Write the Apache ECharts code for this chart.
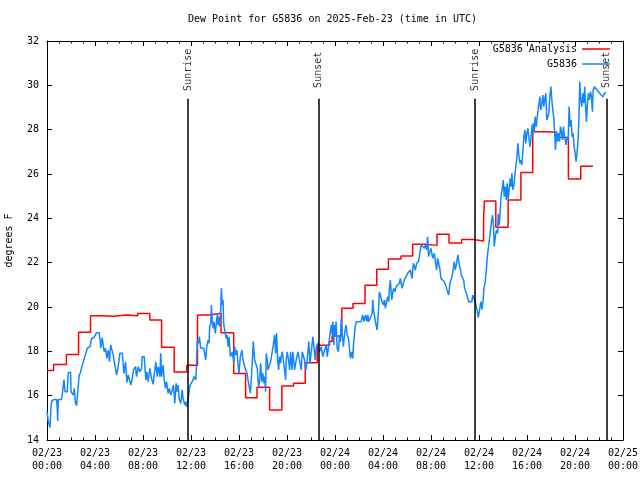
<!DOCTYPE html>
<html>
<head>
<meta charset="utf-8">
<script src="https://cdn.jsdelivr.net/npm/echarts@6/dist/echarts.min.js"></script>
<style>html,body{margin:0;padding:0;background:#fff;}#c{width:640px;height:480px;}</style>
</head>
<body>
<div id="c"></div>
<script>
// Hours since 2025-02-23 00:00 UTC
const redTime = [0,0.55,1.62,2.63,3.63,4.63,5.55,6.57,7.55,8.57,9.55,10.6,11.65,12.54,13.56,14.5,15.56,16.55,17.5,18.55,19.57,20.55,21.52,22.52,23.54,23.76,24.57,25.5,26.5,27.48,28.45,29.5,30.47,31.5,32.5,33.5,34.55,35.55,36.38,36.45,37.4,38.43,39.49,40.48,41.51,42.45,43.45,44.48,45.5];
const redDew  = [17.14,17.41,17.86,18.86,19.61,19.58,19.64,19.61,19.71,19.41,18.18,17.07,17.37,19.64,19.72,18.84,17.0,15.91,16.38,15.35,16.44,16.56,17.49,18.28,18.44,18.69,19.94,20.16,20.98,21.70,22.16,22.30,22.83,22.78,23.28,22.89,23.05,22.98,23.9,24.78,23.6,24.83,26.07,27.91,27.88,27.65,25.77,26.35,26.35];

const blueTime = [0,0.11,0.25,0.33,0.39,0.61,0.8,0.86,0.89,0.94,1.22,1.3,1.41,1.5,1.69,1.77,1.97,2.0,2.19,2.27,2.38,2.47,2.61,2.69,2.8,2.88,3.02,3.16,3.24,3.36,3.44,3.58,3.72,3.91,4.05,4.13,4.35,4.44,4.49,4.6,4.69,4.77,4.88,4.99,5.1,5.21,5.3,5.44,5.52,5.6,5.71,5.8,5.93,6.07,6.27,6.41,6.54,6.66,6.77,6.91,6.99,7.13,7.21,7.38,7.46,7.6,7.74,7.88,7.93,8.1,8.15,8.24,8.32,8.43,8.57,8.71,8.85,8.93,9.07,9.18,9.26,9.4,9.48,9.54,9.68,9.76,9.87,9.96,10.09,10.18,10.32,10.43,10.54,10.65,10.76,10.84,10.93,11.01,11.15,11.26,11.34,
11.48,11.56,11.62,11.7,11.76,11.81,11.9,12.03,12.17,12.26,12.31,12.4,12.45,12.53,12.64,12.7,12.81,12.92,13.06,13.14,13.23,13.31,13.42,13.5,13.56,13.64,13.7,13.78,13.86,13.92,14.03,14.11,14.2,14.25,14.34,14.39,14.48,14.53,14.61,14.67,14.72,14.81,14.92,15.0,15.09,15.17,15.28,15.36,15.45,15.56,15.64,15.72,15.83,15.92,16.0,16.11,16.25,16.33,16.47,16.55,16.67,16.75,16.83,16.94,17.03,17.11,17.19,17.3,17.44,17.53,17.58,17.64,17.72,17.8,17.91,17.99,18.08,18.14,18.22,18.27,18.36,18.41,18.55,18.63,18.77,18.86,18.97,19.05,19.13,19.22,19.3,19.38,19.47,19.52,19.61,19.69,19.8,19.88,19.94,20.02,20.13,20.22,20.3,20.41,20.49,20.63,20.77,20.91,21.05,21.19,21.27,21.35,21.46,21.57,21.66,21.74,21.82,21.91,22.02,22.16,22.24,22.35,22.43,22.57,22.71,22.85,22.99,23.13,23.27,23.35,23.46,
23.54,23.68,23.76,23.82,23.9,23.96,24.04,24.09,24.18,24.29,24.37,24.46,24.51,24.59,24.7,24.82,24.93,25.01,25.12,25.2,25.29,25.4,25.48,25.54,25.62,25.7,25.81,26.17,26.31,26.4,26.54,26.65,26.73,26.81,26.95,27.09,27.15,27.23,27.34,27.42,27.51,27.62,27.7,27.78,27.92,28.03,28.12,28.2,28.31,28.39,28.48,28.53,28.61,28.73,28.81,28.89,29.0,29.09,29.23,29.36,29.45,29.59,29.7,29.78,29.92,30.06,30.2,30.28,30.42,30.53,30.61,30.69,30.8,30.97,31.08,31.19,31.3,31.44,31.53,31.64,31.72,31.8,31.91,32.0,32.14,32.28,32.36,32.47,32.55,32.64,32.75,32.83,32.97,33.11,33.25,33.38,33.47,33.58,33.66,33.75,33.86,33.94,34.02,34.13,34.24,34.36,34.44,34.52,34.63,34.72,34.8,34.91,34.99,35.13,
35.19,35.41,35.47,35.61,35.69,35.74,35.83,35.94,36.08,36.16,36.24,36.35,36.41,36.52,36.63,36.72,36.8,36.91,37.02,37.13,37.21,37.27,37.38,37.46,37.55,37.6,37.69,37.77,37.85,37.94,38.02,38.1,38.19,38.27,38.35,38.43,38.52,38.6,38.68,38.74,38.82,38.91,38.99,39.07,39.16,39.24,39.32,39.41,39.49,39.57,39.65,39.74,39.82,39.9,39.99,40.07,40.18,40.26,40.35,40.43,
40.46,40.52,40.6,40.68,40.77,40.85,40.93,41.02,41.07,41.15,41.24,41.32,41.4,41.49,41.57,41.65,41.74,41.82,41.9,41.99,42.07,42.15,42.24,42.32,42.37,42.46,42.54,42.62,42.71,42.79,42.87,42.96,43.04,43.12,43.18,43.26,43.34,43.43,43.51,43.59,43.68,43.76,43.84,43.93,44.01,44.09,44.18,44.26,44.34,44.4,44.48,44.57,44.65,44.73,44.81,44.9,44.95,45.04,45.12,45.2,45.29,45.37,45.45,45.51,45.56,45.62,46.3,46.56];
const blueDew = [15.28,14.83,14.56,15.43,15.76,15.83,15.83,15.35,14.86,15.83,15.83,16.18,16.71,16.18,16.18,17.05,17.05,16.18,16.03,16.33,15.65,15.55,16.48,16.93,17.05,17.26,17.53,17.61,17.91,18.14,18.21,18.21,18.59,18.62,18.66,18.84,18.84,18.44,18.14,18.62,18.59,17.98,18.14,17.68,18.06,17.53,18.29,18.29,17.83,17.53,17.23,16.93,17.31,17.91,17.91,17.01,17.53,16.6,16.93,16.93,16.48,16.86,17.16,17.31,16.86,17.31,17.08,17.23,17.76,17.76,17.38,16.71,17.08,16.63,17.23,16.78,16.51,16.93,17.53,16.86,17.31,16.86,17.91,16.86,17.38,16.78,16.33,16.63,16.11,16.33,16.03,16.26,16.48,15.65,16.56,16.18,16.48,15.88,15.65,16.26,15.88,
15.58,15.73,15.5,15.65,15.88,16.03,16.44,16.48,16.71,16.86,16.78,16.71,17.31,18.51,18.36,18.66,18.14,18.21,18.14,18.21,17.61,18.21,18.51,18.36,19.11,19.26,20.09,19.26,19.04,19.34,18.81,19.26,19.71,19.19,19.56,19.11,19.86,20.84,20.09,20.32,19.26,19.19,18.59,18.74,18.21,18.66,17.76,17.68,17.98,17.46,18.21,17.83,18.06,17.38,17.01,17.76,18.06,17.61,17.61,17.16,17.01,16.71,16.48,16.11,16.78,17.53,18.44,17.61,17.68,17.23,16.71,16.41,16.63,17.46,16.63,17.01,16.56,16.86,16.18,17.91,17.61,17.16,17.08,17.53,17.98,18.29,18.74,17.91,18.81,17.61,17.16,17.76,17.46,17.76,17.98,17.61,17.16,16.71,17.61,17.98,17.61,17.16,17.98,17.16,17.98,17.16,17.61,17.98,17.98,17.16,17.98,18.06,17.61,17.16,17.53,17.98,18.44,17.46,17.53,18.66,18.21,17.61,18.14,18.36,17.98,18.21,17.76,18.06,18.29,17.76,18.21,
18.14,19.19,18.74,19.34,18.29,19.19,18.74,19.34,18.14,17.98,18.74,18.44,19.49,18.89,18.21,18.89,19.19,18.74,18.59,18.14,17.68,17.98,17.68,18.29,18.74,19.19,19.34,19.34,19.64,19.34,19.64,19.34,19.64,19.34,19.34,19.71,20.32,19.79,19.86,19.19,18.96,19.79,20.69,20.54,20.24,20.09,20.32,19.94,19.94,20.47,20.24,20.77,21.22,20.32,20.62,20.84,20.69,20.92,20.84,21.07,21.29,20.84,21.07,21.22,21.29,21.52,21.44,21.67,21.29,21.97,22.05,21.67,21.97,22.05,22.47,22.8,22.8,22.65,22.8,22.57,23.17,22.27,22.5,22.65,22.2,22.42,22.05,21.67,22.2,22.12,21.67,21.29,21.29,21.14,20.92,20.92,20.54,21.07,21.14,21.37,21.74,22.05,21.67,21.97,22.35,21.89,21.74,21.44,21.52,21.22,20.84,20.92,20.54,20.24,
20.24,20.24,20.54,20.47,20.24,20.2,19.86,19.53,19.53,20.24,19.89,20.32,20.84,21.14,21.82,22.42,22.72,23.25,23.77,24.15,23.62,22.72,23.25,23.47,23.32,24.2,23.7,24.38,25.05,25.35,25.73,24.98,25.43,24.83,25.58,24.83,25.35,25.8,25.43,26.03,25.28,25.5,25.95,26.33,26.78,27.38,26.86,26.48,26.63,26.41,27.01,27.68,27.98,27.38,27.83,28.06,27.53,27.23,27.76,28.21,
27.68,28.29,27.91,28.59,28.14,28.56,28.89,29.26,29.49,28.89,29.19,29.56,29.04,29.41,29.64,28.44,28.36,28.74,29.49,29.94,29.34,28.89,28.51,27.68,27.08,27.91,27.46,27.84,27.46,28.14,27.91,27.54,28.14,27.68,27.54,27.31,27.68,27.54,29.04,28.14,28.44,27.68,27.84,27.23,26.93,26.56,27.01,27.54,28.74,30.17,29.34,29.04,29.64,29.19,29.94,28.89,28.36,29.19,29.64,29.34,29.71,29.49,28.81,29.79,29.86,29.94,29.48,29.7];

const eventTime = [11.76, 22.65, 35.67, 46.63];
const eventName = ['Sunrise', 'Sunset', 'Sunrise', 'Sunset'];

const yTicks = [14,16,18,20,22,24,26,28,30,32];

const FONT = 'DejaVu Sans Mono';
const lineTop = 29.4;   // where marker lines stop
const labelY = 30.7;    // centre of marker text

function xLabel(h) {
  const d = 23 + Math.floor(h / 24);
  const hh = h % 24;
  return '02/' + d + '\n' + String(hh).padStart(2, '0') + ':00';
}

const chart = echarts.init(document.getElementById('c'), null, {renderer: 'canvas'});
const axisCommon = {
  type: 'value', min: 0, max: 48, interval: 4,
  axisLine: {show: true, onZero: false, lineStyle: {color: '#000', width: 1}},
  axisTick: {show: true, inside: true, length: 5, lineStyle: {color: '#000'}},
  minorTick: {show: true, splitNumber: 4, length: 2.5, lineStyle: {color: '#000'}},
  splitLine: {show: false}
};
const yCommon = {
  type: 'value', min: yTicks[0], max: yTicks[yTicks.length - 1], interval: 2,
  axisLine: {show: true, onZero: false, lineStyle: {color: '#000', width: 1}},
  axisTick: {show: true, inside: true, length: 5, lineStyle: {color: '#000'}},
  splitLine: {show: false}
};

chart.setOption({
  animation: false,
  backgroundColor: '#fff',
  textStyle: {fontFamily: FONT},
  grid: {left: 47, right: 17, top: 41, bottom: 40, containLabel: false, outerBoundsMode: 'none'},
  graphic: [{
    type: 'text', left: 188, top: 14,
    style: {text: 'Dew Point for G5836 on 2025-Feb-23 (time in UTC)', font: '10px "DejaVu Sans Mono"', fill: '#000'}
  }],
  legend: {
    data: [
      {name: 'G5836 Analysis', icon: 'rect'},
      {name: 'G5836', icon: 'rect'}
    ],
    orient: 'vertical', align: 'right', right: 30, top: 43, padding: 0,
    itemWidth: 28, itemHeight: 1.5, itemGap: 3,
    textStyle: {fontFamily: FONT, fontSize: 10, color: '#000', lineHeight: 12}
  },
  xAxis: [
    Object.assign({}, axisCommon, {
      position: 'bottom',
      axisLabel: {show: true, formatter: xLabel, fontFamily: FONT, fontSize: 10, color: '#000', lineHeight: 13, margin: 7, showMaxLabel: true, showMinLabel: true}
    }),
    Object.assign({}, axisCommon, {position: 'top', axisLabel: {show: false}})
  ],
  yAxis: [
    Object.assign({}, yCommon, {
      position: 'left',
      name: 'degrees F', nameLocation: 'middle', nameGap: 33, nameRotate: 90,
      nameTextStyle: {fontFamily: FONT, fontSize: 10, color: '#000'},
      axisLabel: {show: true, fontFamily: FONT, fontSize: 10, color: '#000', margin: 8}
    }),
    Object.assign({}, yCommon, {position: 'right', axisLabel: {show: false}})
  ],
  series: [
    {
      name: 'G5836 Analysis', type: 'line', step: 'end',
      data: redTime.map((t, i) => [t, redDew[i]]),
      symbol: 'none', color: '#ff0000',
      lineStyle: {color: '#ff0000', width: 1.5}, z: 3
    },
    {
      name: 'G5836', type: 'line',
      data: blueTime.map((t, i) => [t, blueDew[i]]),
      symbol: 'none', color: '#1487ff',
      lineStyle: {color: '#1487ff', width: 1.5}, z: 4
    },
    {
      name: 'events', type: 'scatter', symbolSize: 0, z: 5, silent: true,
      data: eventTime.map((t, i) => ({value: [t, labelY], name: eventName[i]})),
      label: {show: true, position: 'inside', rotate: 90, formatter: p => p.name, fontFamily: FONT, fontSize: 10, color: '#000'},
      markLine: {
        silent: true, symbol: ['none', 'none'], label: {show: false},
        lineStyle: {color: '#000', width: 1.5, type: 'solid'},
        data: eventTime.map(t => [{coord: [t, yTicks[0]]}, {coord: [t, lineTop]}])
      }
    }
  ]
});
</script>
</body>
</html>
